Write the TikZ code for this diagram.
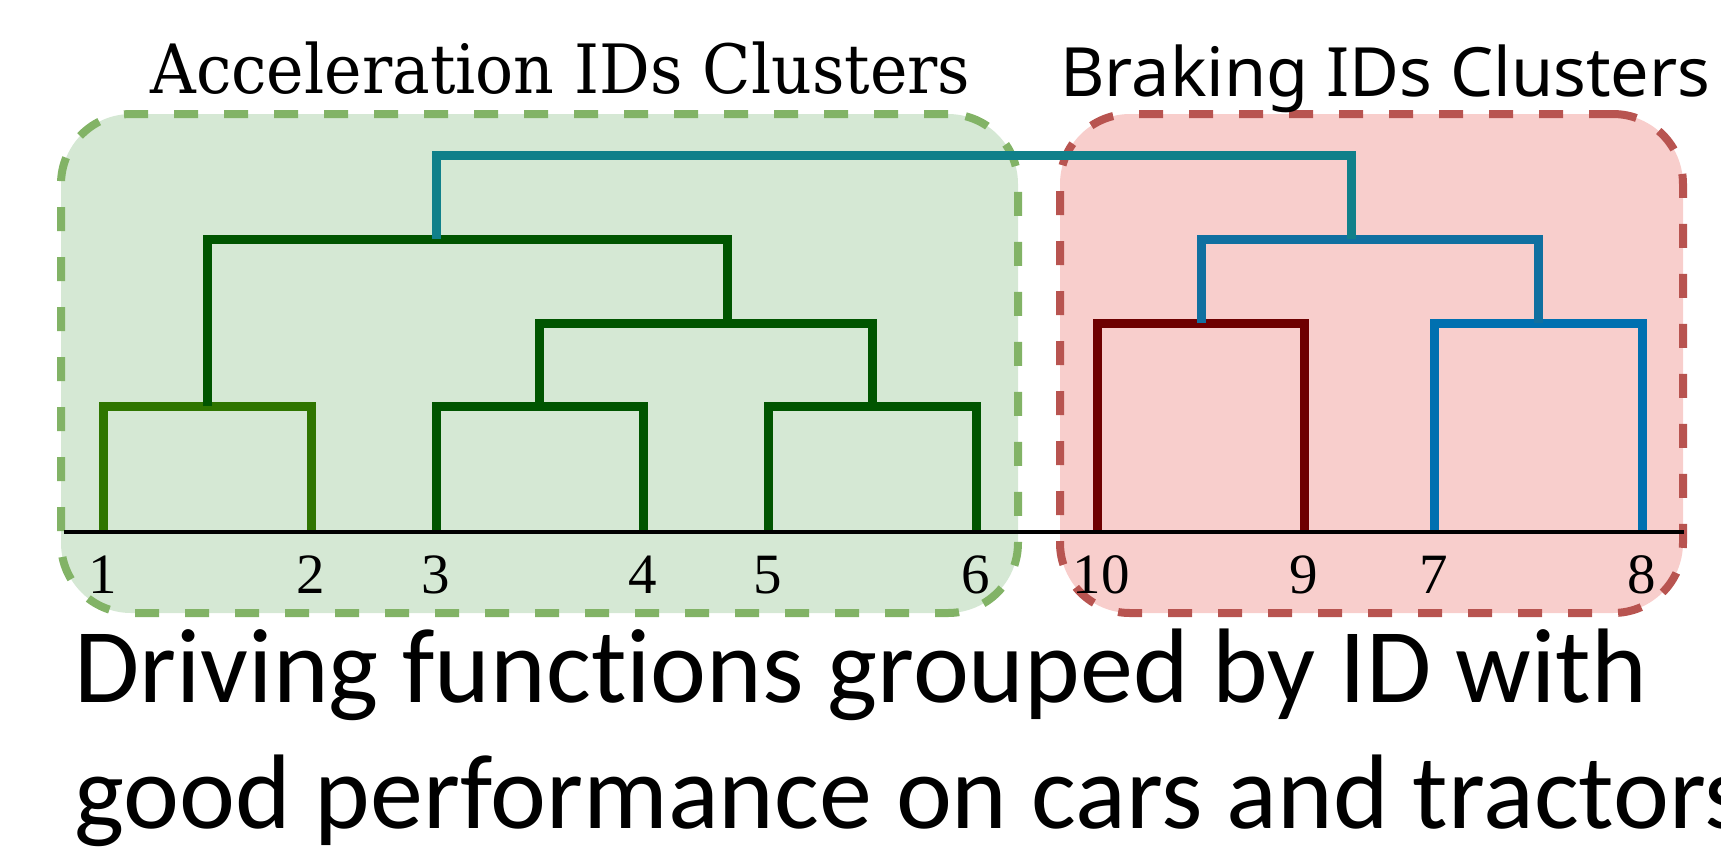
\documentclass[tikz,border=0pt]{standalone}
\usepackage{fontspec}
\usepackage{graphicx}
\setmainfont{Liberation Serif}
\newfontfamily\capfont{Carlito}
\newfontfamily\accfont{DejaVu Serif}
\newfontfamily\brkfont{Noto Sans}
\definecolor{accfill}{HTML}{D5E8D4}
\definecolor{accline}{HTML}{82B366}
\definecolor{brkfill}{HTML}{F8CECC}
\definecolor{brkline}{HTML}{B85450}
\definecolor{lgreen}{HTML}{2F7500}
\definecolor{dgreen}{HTML}{005500}
\definecolor{teal2}{HTML}{10808A}
\definecolor{blue2}{HTML}{1070A0}
\definecolor{blue3}{HTML}{0070B0}
\definecolor{dred}{HTML}{6E0000}
\tikzset{
  cluster/.style={rounded corners=35pt, line width=4pt, dash pattern=on 12pt off 13pt, inner sep=0pt, minimum height=249.5pt},
  link/.style={line width=4.5pt, line join=miter},
  axisline/.style={line width=1.8pt, black},
  leaflabel/.style={inner sep=0pt, anchor=base, font=\fontsize{28.5}{28.5}\selectfont},
}
\begin{document}
\begin{tikzpicture}[x=0.5pt,y=-0.5pt]
\useasboundingbox (0,0) rectangle (1721,848);
% cluster boxes
\node[cluster, draw=accline, fill=accfill, minimum width=478.5pt] (accbox) at (539.5,363.5) {};
\node[cluster, draw=brkline, fill=brkfill, minimum width=311.5pt] (brkbox) at (1371.5,363.5) {};
% titles
\node[inner sep=0pt, anchor=base west] (acctitle) at (150,93) {\resizebox{410pt}{\height}{\accfont\fontsize{34}{34}\selectfont Acceleration IDs Clusters}};
\node[inner sep=0pt, anchor=base west] (brktitle) at (1060,96) {\resizebox{325pt}{\height}{\brkfont\fontsize{34}{34}\selectfont Braking IDs Clusters}};
% leaves
\coordinate (L1) at (103,532);
\coordinate (L2) at (311,532);
\coordinate (L3) at (436,532);
\coordinate (L4) at (643,532);
\coordinate (L5) at (768,532);
\coordinate (L6) at (976,532);
\coordinate (L10) at (1097,532);
\coordinate (L9) at (1304,532);
\coordinate (L7) at (1434,532);
\coordinate (L8) at (1642,532);
% merges
\coordinate (M12) at (207,406);
\coordinate (M34) at (539,406);
\coordinate (M56) at (872,406);
\coordinate (M3456) at (727,323);
\coordinate (Macc) at (436,239);
\coordinate (M109) at (1201,323);
\coordinate (M78) at (1538,323);
\coordinate (Mbrk) at (1351,239);
\coordinate (Mtop) at (900,155);
% links
\draw[link, lgreen] (L1) |- (M12) -| (L2);
\draw[link, dgreen] (L3) |- (M34) -| (L4);
\draw[link, dgreen] (L5) |- (M56) -| (L6);
\draw[link, dgreen] (M34) |- (M3456) -| (M56);
\draw[link, dgreen] (M12) |- (Macc) -| (M3456);
\draw[link, dred] (L10) |- (M109) -| (L9);
\draw[link, blue3] (L7) |- (M78) -| (L8);
\draw[link, blue2] (M109) |- (Mbrk) -| (M78);
\draw[link, teal2] (Macc) |- (Mtop) -| (Mbrk);
% axis
\coordinate (ax0) at (64,532);
\coordinate (ax1) at (1684,532);
\draw[axisline] (ax0) -- (ax1);
% leaf labels
\node[leaflabel] (n1) at (103,593) {1};
\node[leaflabel] (n2) at (311,593) {2};
\node[leaflabel] (n3) at (436,593) {3};
\node[leaflabel] (n4) at (643,593) {4};
\node[leaflabel] (n5) at (768,593) {5};
\node[leaflabel] (n6) at (976,593) {6};
\node[leaflabel] (n10) at (1101,593) {10};
\node[leaflabel] (n9) at (1304,593) {9};
\node[leaflabel] (n7) at (1434,593) {7};
\node[leaflabel] (n8) at (1642,593) {8};
% caption
\node[inner sep=0pt, anchor=base west, font=\capfont\fontsize{53}{63}\selectfont] (cap1) at (74,702) {Driving funct\kern0pt ions grouped by ID with};
\node[inner sep=0pt, anchor=base west, font=\capfont\fontsize{53}{63}\selectfont] (cap2) at (74,828) {good performance on cars and tractors};
\end{tikzpicture}
\end{document}
